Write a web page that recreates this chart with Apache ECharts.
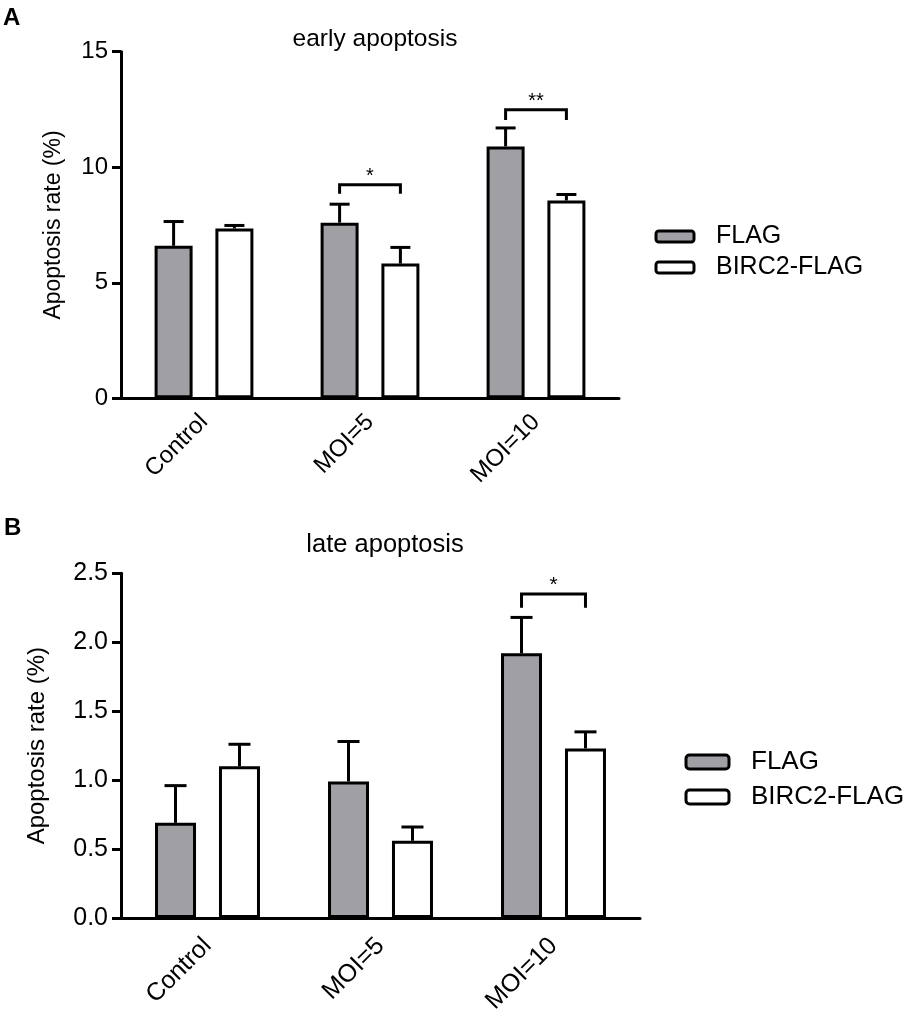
<!DOCTYPE html>
<html>
<head>
<meta charset="utf-8">
<script src="https://cdn.jsdelivr.net/npm/echarts@6/dist/echarts.min.js"></script>
<style>
  html, body { margin: 0; padding: 0; background: #fff; }
  #main { width: 911px; height: 1019px; }
</style>
</head>
<body>
<div id="main"></div>
<script>
// 数据开始
var categories = ['Control', 'MOI=5', 'MOI=10'];
var seriesNames = ['FLAG', 'BIRC2-FLAG'];

var earlyFlag = [6.6, 7.6, 10.9];
var earlyFlagSd = [1.05, 0.8, 0.8];
var earlyBirc = [7.35, 5.83, 8.56];
var earlyBircSd = [0.13, 0.7, 0.26];

var lateFlag = [0.69, 0.99, 1.92];
var lateFlagSd = [0.27, 0.29, 0.26];
var lateBirc = [1.10, 0.56, 1.23];
var lateBircSd = [0.16, 0.10, 0.12];

// 显著性标记: 类别, 竖线下端, 横线高度, 星号
var earlyMarkCat = [1, 2];
var earlyMarkLeg = [8.85, 12.04];
var earlyMarkTop = [9.24, 12.49];
var earlyMarkText = ['*', '**'];

var lateMarkCat = [2];
var lateMarkLeg = [2.25];
var lateMarkTop = [2.35];
var lateMarkText = ['*'];

var earlyTicks = [0, 15, 5];
var lateTicks = [0, 2.5, 0.5];
// 数据结束

var FONT = '"Liberation Sans", Arial, sans-serif';
var GREY = '#a09fa4';
var LW = 3;

// 误差线
function errorSeries(gridIdx, means, sds, side, barW, gapPct, capW) {
    var data = [];
    for (var i = 0; i < means.length; i++) {
        data.push([i, means[i], sds[i]]);
    }
    var off = side * (barW + barW * gapPct) / 2;
    return {
        type: 'custom',
        xAxisIndex: gridIdx,
        yAxisIndex: gridIdx,
        z: 3,
        silent: true,
        encode: { x: 0, y: 1 },
        data: data,
        renderItem: function(params, api) {
            var p0 = api.coord([api.value(0), api.value(1)]);
            var p1 = api.coord([api.value(0), api.value(1) + api.value(2)]);
            var cx = p0[0] + off;
            var st = { stroke: '#000', lineWidth: LW };
            return {
                type: 'group',
                children: [
                    { type: 'line', shape: { x1: cx, y1: p0[1], x2: cx, y2: p1[1] }, style: st },
                    { type: 'line', shape: { x1: cx - capW / 2, y1: p1[1], x2: cx + capW / 2, y2: p1[1] }, style: st }
                ]
            };
        }
    };
}

// 显著性括号
function bracketSeries(gridIdx, cats, legs, tops, texts, barW, gapPct, fs) {
    var data = [];
    for (var i = 0; i < cats.length; i++) {
        data.push([cats[i], tops[i], legs[i], i]);
    }
    var off = (barW + barW * gapPct) / 2;
    return {
        type: 'custom',
        xAxisIndex: gridIdx,
        yAxisIndex: gridIdx,
        z: 4,
        silent: true,
        encode: { x: 0, y: 1 },
        data: data,
        renderItem: function(params, api) {
            var pt = api.coord([api.value(0), api.value(1)]);
            var pl = api.coord([api.value(0), api.value(2)]);
            var xl = pt[0] - off, xr = pt[0] + off;
            return {
                type: 'group',
                children: [
                    {
                        type: 'polyline',
                        shape: { points: [[xl, pl[1]], [xl, pt[1]], [xr, pt[1]], [xr, pl[1]]] },
                        style: { stroke: '#000', lineWidth: LW, fill: null }
                    },
                    {
                        type: 'text',
                        x: pt[0], y: pt[1] + 2,
                        style: {
                            text: texts[api.value(3)], fill: '#000',
                            font: fs + 'px ' + FONT,
                            align: 'center', verticalAlign: 'bottom'
                        }
                    }
                ]
            };
        }
    };
}

function barSeries(gridIdx, name, values, color, barW, gapPct) {
    return {
        type: 'bar',
        name: name,
        xAxisIndex: gridIdx,
        yAxisIndex: gridIdx,
        barWidth: barW,
        barGap: (gapPct * 100) + '%',
        data: values,
        silent: true,
        itemStyle: { color: color, borderColor: '#000', borderWidth: LW }
    };
}

function xAxisOpt(gridIdx, fs, margin) {
    return {
        type: 'category',
        gridIndex: gridIdx,
        data: categories,
        axisLine: { lineStyle: { color: '#000', width: LW } },
        axisTick: { alignWithLabel: true, length: 10, lineStyle: { color: '#000', width: LW } },
        axisLabel: { rotate: 45, margin: margin, color: '#000', fontSize: fs, fontFamily: FONT }
    };
}

function yAxisOpt(gridIdx, ticks, fs, nameFs, nameGap, digits) {
    return {
        type: 'value',
        gridIndex: gridIdx,
        min: ticks[0],
        max: ticks[1],
        interval: ticks[2],
        name: 'Apoptosis rate (%)',
        nameLocation: 'middle',
        nameGap: nameGap,
        nameTextStyle: { color: '#000', fontSize: nameFs, fontFamily: FONT },
        splitLine: { show: false },
        axisLine: { show: true, lineStyle: { color: '#000', width: LW } },
        axisTick: { show: true, length: 9, lineStyle: { color: '#000', width: LW } },
        axisLabel: {
            margin: 13, color: '#000', fontSize: fs, fontFamily: FONT,
            formatter: function(v) { return v.toFixed(digits); }
        }
    };
}

function legendOpt(left, top, iw, ih, fs, gap) {
    return {
        orient: 'vertical',
        left: left,
        top: top,
        padding: 0,
        itemGap: gap,
        itemWidth: iw,
        itemHeight: ih,
        icon: 'roundRect',
        data: seriesNames,
        selectedMode: false,
        itemStyle: { borderColor: '#000', borderWidth: LW },
        textStyle: { color: '#000', fontSize: fs, lineHeight: fs, fontFamily: FONT, padding: [0, 0, 0, 17] }
    };
}

var myChart = echarts.init(document.getElementById('main'), null, { renderer: 'canvas' });

var topBarW = 38, topGap = 0.6;
var botBarW = 41, botGap = 0.56;

var option = {
    backgroundColor: '#fff',
    animation: false,
    title: [
        {
            text: 'early apoptosis', left: 370, top: 22, textAlign: 'center',
            textStyle: { color: '#000', fontSize: 24.5, fontWeight: 'normal', fontFamily: FONT }
        },
        {
            text: 'late apoptosis', left: 380, top: 527, textAlign: 'center',
            textStyle: { color: '#000', fontSize: 25.5, fontWeight: 'normal', fontFamily: FONT }
        }
    ],
    graphic: [
        { type: 'text', left: 3, top: 6, style: { text: 'A', fill: '#000', font: 'bold 24px ' + FONT } },
        { type: 'text', left: 4, top: 516, style: { text: 'B', fill: '#000', font: 'bold 24px ' + FONT } }
    ],
    legend: [
        legendOpt(654.5, 224, 38, 11, 25, 6),
        legendOpt(684.5, 749, 43, 14, 26, 9)
    ],
    grid: [
        { left: 121, top: 51.7, width: 498, height: 346.6 },
        { left: 121, top: 573.3, width: 519, height: 344.7 }
    ],
    xAxis: [xAxisOpt(0, 24, 20), xAxisOpt(1, 25, 24)],
    yAxis: [
        yAxisOpt(0, earlyTicks, 24, 23, 56, 0),
        yAxisOpt(1, lateTicks, 25, 24, 72, 1)
    ],
    series: [
        barSeries(0, 'FLAG', earlyFlag, GREY, topBarW, topGap),
        barSeries(0, 'BIRC2-FLAG', earlyBirc, '#fff', topBarW, topGap),
        errorSeries(0, earlyFlag, earlyFlagSd, -1, topBarW, topGap, 20),
        errorSeries(0, earlyBirc, earlyBircSd, 1, topBarW, topGap, 20),
        bracketSeries(0, earlyMarkCat, earlyMarkLeg, earlyMarkTop, earlyMarkText, topBarW, topGap, 20),

        barSeries(1, 'FLAG', lateFlag, GREY, botBarW, botGap),
        barSeries(1, 'BIRC2-FLAG', lateBirc, '#fff', botBarW, botGap),
        errorSeries(1, lateFlag, lateFlagSd, -1, botBarW, botGap, 22),
        errorSeries(1, lateBirc, lateBircSd, 1, botBarW, botGap, 22),
        bracketSeries(1, lateMarkCat, lateMarkLeg, lateMarkTop, lateMarkText, botBarW, botGap, 21)
    ]
};

myChart.setOption(option);
</script>
</body>
</html>
